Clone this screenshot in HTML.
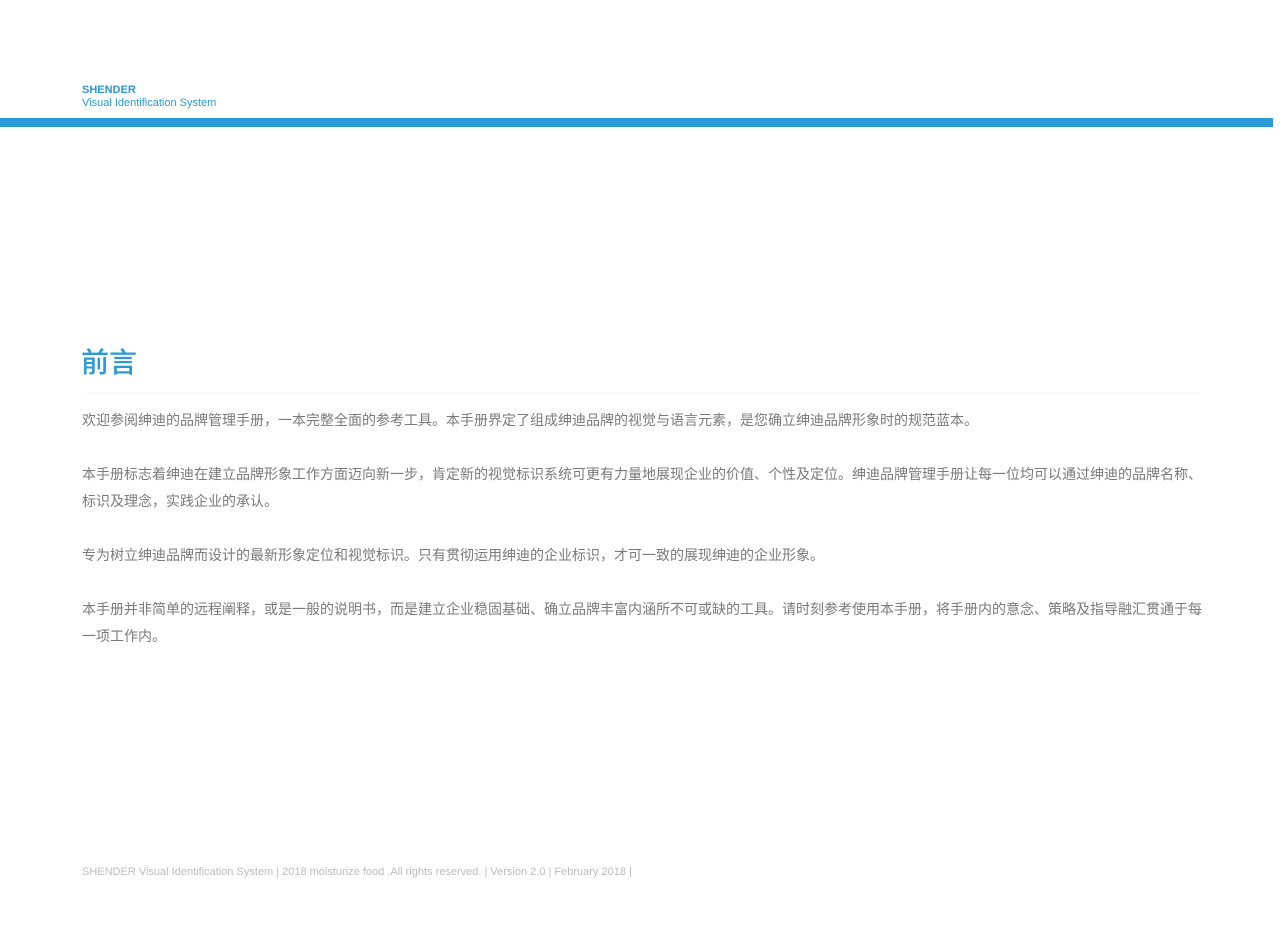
<!DOCTYPE html>
<html><head><meta charset="utf-8"><style>
body{margin:0;width:1280px;height:951px;background:#fff;position:relative;overflow:hidden;font-family:"Liberation Sans","Noto Sans CJK SC",sans-serif}
.a{position:absolute;white-space:nowrap}
.p{position:absolute;left:82px;font-size:14px;color:#7a7a7a;line-height:27px;white-space:nowrap}
</style></head><body>
<div class="a" style="left:82px;top:84px;font-size:11px;font-weight:bold;color:#2a9ad6">SHENDER</div>
<div class="a" style="left:82px;top:97px;font-size:11px;color:#2a9ad6">Visual Identification System</div>
<div class="a" style="left:0;top:118px;width:1273px;height:9px;background:#2a9ad6"></div>
<div class="a" style="left:81px;top:341px;font-size:28px;color:#2a9ad6;font-weight:500">前言</div>
<div class="a" style="left:82px;top:392px;width:1120px;height:1px;background:#fafafa"></div>
<div class="p" style="top:407px">欢迎参阅绅迪的品牌管理手册，一本完整全面的参考工具。本手册界定了组成绅迪品牌的视觉与语言元素，是您确立绅迪品牌形象时的规范蓝本。</div>
<div class="p" style="top:461px">本手册标志着绅迪在建立品牌形象工作方面迈向新一步，肯定新的视觉标识系统可更有力量地展现企业的价值、个性及定位。绅迪品牌管理手册让每一位均可以通过绅迪的品牌名称、<br>标识及理念，实践企业的承认。</div>
<div class="p" style="top:542px">专为树立绅迪品牌而设计的最新形象定位和视觉标识。只有贯彻运用绅迪的企业标识，才可一致的展现绅迪的企业形象。</div>
<div class="p" style="top:596px">本手册并非简单的远程阐释，或是一般的说明书，而是建立企业稳固基础、确立品牌丰富内涵所不可或缺的工具。请时刻参考使用本手册，将手册内的意念、策略及指导融汇贯通于每<br>一项工作内。</div>
<div class="a" style="left:82px;top:866px;font-size:11px;color:#bdbdbd">SHENDER Visual Identification System | 2018 moisturize food .All rights reserved. | Version 2.0 | February 2018 |</div>
</body></html>
